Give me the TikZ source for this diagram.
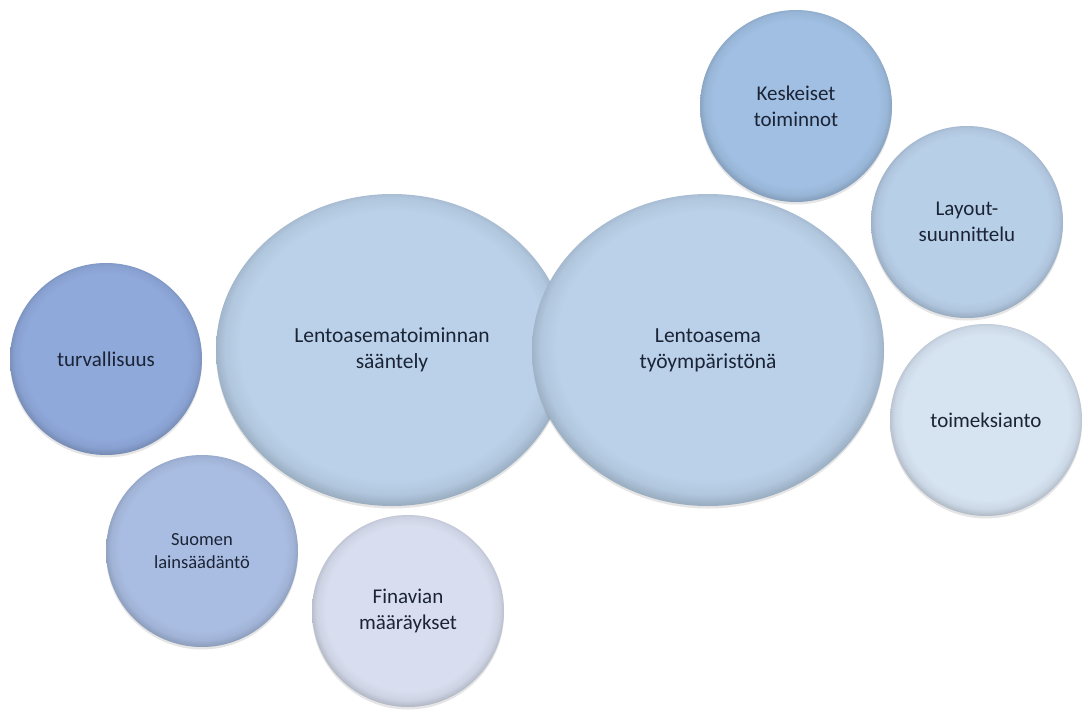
\documentclass[tikz,border=0pt]{standalone}
\usepackage{fontspec}
\setmainfont{Carlito}
\usetikzlibrary{shapes.geometric,shadows}

\definecolor{cKes}{HTML}{A0BFE2}
\definecolor{cLay}{HTML}{B8CFE8}
\definecolor{cToi}{HTML}{D6E3F1}
\definecolor{cBig}{HTML}{BAD1E9}
\definecolor{cTur}{HTML}{8FA9DB}
\definecolor{cSuo}{HTML}{A9BDE2}
\definecolor{cFin}{HTML}{D8DEEF}
\definecolor{txt}{HTML}{1B2435}

\newcommand\mkbub[2]{\pgfdeclareradialshading{#1}{\pgfpoint{0bp}{1.2bp}}{color(0bp)=(#2); color(21.5bp)=(#2); color(23.8bp)=(#2!95!black); color(25.3bp)=(#2!84!black); color(26.5bp)=(#2!74!black); color(50bp)=(#2!74!black)}}
\mkbub{bubKes}{cKes}
\mkbub{bubLay}{cLay}
\mkbub{bubToi}{cToi}
\mkbub{bubBig}{cBig}
\mkbub{bubTur}{cTur}
\mkbub{bubSuo}{cSuo}
\mkbub{bubFin}{cFin}

\tikzset{
  bubshadow/.style={drop shadow={shadow xshift=0pt, shadow yshift=-2.5pt, opacity=.14, fill=black!70}},
  bubble/.style={circle, minimum size=192pt, inner sep=0pt, align=center, text=txt,
    font=\fontsize{21}{26}\selectfont, bubshadow},
  bigbub/.style={ellipse, minimum width=352pt, minimum height=312pt, inner sep=0pt, align=center,
    text=txt, font=\fontsize{21.5}{26}\selectfont, bubshadow, shading=bubBig}
}

\begin{document}
\begin{tikzpicture}[x=1pt,y=-1pt]
\useasboundingbox[fill=white] (0,0) rectangle (1083,709);

\node[bubble, shading=bubKes] (kes) at (796,106) {Keskeiset\\toiminnot};
\node[bubble, shading=bubLay] (lay) at (967,222) {Layout-\\suunnittelu};
\node[bubble, shading=bubToi] (toi) at (986,420) {toimeksianto};
\node[bubble, shading=bubTur] (tur) at (106,359) {turvallisuus};
\node[bubble, shading=bubSuo, font=\fontsize{18.5}{23}\selectfont] (suo) at (202,551) {Suomen\\lainsäädäntö};
\node[bubble, shading=bubFin] (fin) at (408,611) {Finavian\\määräykset};

\node[bigbub] (sae) at (392,350) {Lentoasematoiminnan\\sääntely};
\node[bigbub] (lent) at (708,350) {Lentoasema\\työympäristönä};
\end{tikzpicture}
\end{document}
